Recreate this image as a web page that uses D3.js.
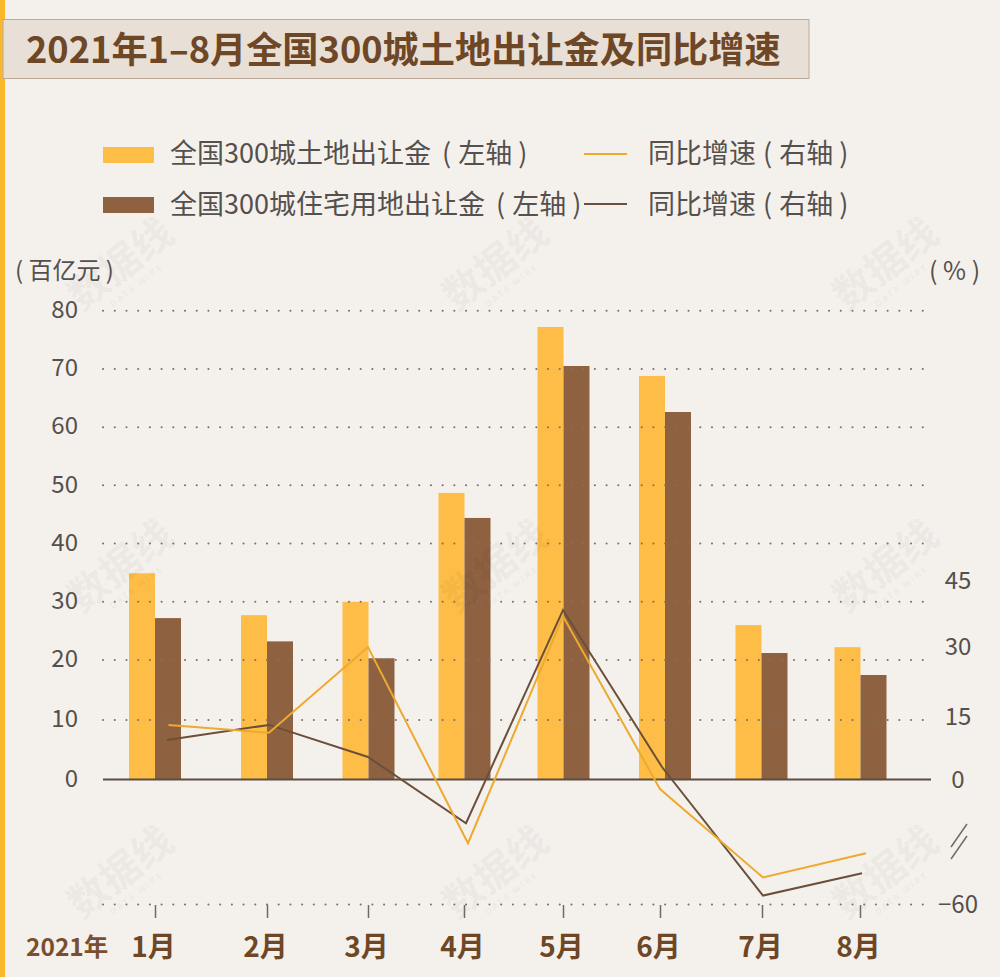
<!DOCTYPE html>
<html>
<head>
<meta charset="utf-8">
<script src="https://cdn.jsdelivr.net/npm/d3@7/dist/d3.min.js"></script>
<style>
  html, body { margin: 0; padding: 0; background: #f4f1ec; }
  svg { display: block; }
  text { font-family: "Noto Sans CJK SC", "Noto Sans", sans-serif; }
</style>
</head>
<body>
<script>
const months = ['1月', '2月', '3月', '4月', '5月', '6月', '7月', '8月'];

// 百亿元
const landValues = [34.9, 27.7, 30, 48.7, 77.2, 68.8, 26, 22.2];
const housingValues = [27.2, 23.2, 20.3, 44.4, 70.5, 62.6, 21.2, 17.5];

// %
const landGrowth = [13.1, 11.2, 30, -30.6, 37, -4.6, -47, -35.4];
const housingGrowth = [9.5, 13.1, 5.4, -21, 38.4, 3, -55.7, -45];

const leftTicks = [0, 10, 20, 30, 40, 50, 60, 70, 80];
const rightTicks = [45, 30, 15, 0, -60];

const YELLOW = '#fdbd46';
const BROWN = '#8e6240';
const LINE_YELLOW = '#eea92f';
const LINE_BROWN = '#6b4f3a';
const TEXT = '#55504d';
const TITLE = '#6e4727';

const svg = d3.select('body').append('svg')
  .attr('width', 1000)
  .attr('height', 977);

svg.append('rect').attr('width', 1000).attr('height', 977).attr('fill', '#f4f1ec');
svg.append('rect').attr('width', 5).attr('height', 977).attr('fill', '#fbb829');

// title box
svg.append('rect')
  .attr('x', 3).attr('y', 19.5)
  .attr('width', 806).attr('height', 59)
  .attr('fill', '#e8dfd6')
  .attr('stroke', '#bda999');
svg.append('text')
  .attr('x', 26).attr('y', 63)
  .attr('font-size', 36.2).attr('font-weight', 700)
  .attr('fill', TITLE)
  .text('2021年1–8月全国300城土地出让金及同比增速');

// irregular month spacing in the source, so ordinal scales rather than a band
const xTick = d3.scaleOrdinal().domain(months).range([155, 267, 368, 464, 563, 660, 762, 860]);
const xBar = d3.scaleOrdinal().domain(months).range([155, 267, 368.5, 464.5, 563.5, 665, 761.5, 860.5]);
const xLandLine = d3.scaleOrdinal().domain(months).range([168.5, 269, 368, 468, 563, 660, 763, 866]);
const xHousingLine = d3.scaleOrdinal().domain(months).range([167, 269, 368, 466, 563, 662, 763, 862]);
const barWidth = 26;

// the gridlines in the source are not quite evenly spaced near the baseline
const yLeft = d3.scaleLinear().domain([0, 10, 20, 80]).range([779.5, 720, 660, 310.7]);
// right axis has a break below zero
const yRight = d3.scaleLinear().domain([-60, 0, 15, 30, 45]).range([904.5, 779.5, 717, 647, 581]);

// bars
let gBars = svg.append('g');
gBars.selectAll('rect.land').data(months).join('rect')
  .attr('class', 'land')
  .attr('x', m => xBar(m) - barWidth)
  .attr('y', (m, i) => yLeft(landValues[i]))
  .attr('width', barWidth)
  .attr('height', (m, i) => yLeft(0) - yLeft(landValues[i]))
  .attr('fill', YELLOW);
gBars.selectAll('rect.housing').data(months).join('rect')
  .attr('class', 'housing')
  .attr('x', m => xBar(m))
  .attr('y', (m, i) => yLeft(housingValues[i]))
  .attr('width', barWidth)
  .attr('height', (m, i) => yLeft(0) - yLeft(housingValues[i]))
  .attr('fill', BROWN);

// watermarks sit faintly over the bars
const markRows = [275, 577, 883];
const markCols = [129, 504, 894];
markRows.forEach(function(my) {
  markCols.forEach(function(mx) {
    let g = svg.append('g')
      .attr('transform', `translate(${mx},${my}) rotate(-38)`)
      .attr('fill', '#000')
      .attr('fill-opacity', 0.05)
      .attr('text-anchor', 'middle');
    g.append('text').attr('font-size', 40).attr('font-weight', 700).text('数据线');
    g.append('text').attr('y', 16).attr('font-size', 9).attr('font-weight', 700)
      .attr('letter-spacing', 2).text('DATA WIRE');
  });
});

// dotted grid, on top of the bars
const gridX = d3.scaleLinear().domain([0, 1]).range([103, 925]);
let gGrid = svg.append('g')
  .attr('stroke', '#7d7269')
  .attr('stroke-width', 2)
  .attr('stroke-linecap', 'round')
  .attr('stroke-dasharray', '0.1 11.61')
  .attr('fill', 'none');
gGrid.selectAll('line').data(leftTicks.filter(d => d > 0)).join('line')
  .attr('x1', gridX(0)).attr('x2', gridX(1))
  .attr('y1', d => yLeft(d)).attr('y2', d => yLeft(d));
gGrid.append('line')
  .attr('x1', gridX(0)).attr('x2', gridX(1))
  .attr('y1', yRight(-60)).attr('y2', yRight(-60));

// left axis
let axisL = svg.append('g')
  .attr('transform', 'translate(78,0)')
  .call(d3.axisLeft(yLeft).tickValues(leftTicks).tickSize(0).tickPadding(0));
axisL.select('.domain').remove();
axisL.selectAll('text')
  .attr('font-size', 24).attr('fill', TEXT)
  .attr('dy', '0.28em')
  .attr('font-family', '"Noto Sans CJK SC", sans-serif');

// right axis
let axisR = svg.append('g')
  .attr('transform', 'translate(958,0)')
  .call(d3.axisRight(yRight).tickValues(rightTicks).tickFormat(d3.format('d')).tickSize(0).tickPadding(0));
axisR.select('.domain').remove();
axisR.selectAll('text')
  .attr('font-size', 24).attr('fill', TEXT)
  .attr('text-anchor', 'middle')
  .attr('font-family', '"Noto Sans CJK SC", sans-serif');

// zero line
svg.append('line')
  .attr('x1', 103).attr('x2', 931)
  .attr('y1', yLeft(0)).attr('y2', yLeft(0))
  .attr('stroke', '#5a4d45').attr('stroke-width', 2);

// axis break marks
[0, 12].forEach(function(off) {
  svg.append('line')
    .attr('x1', 967).attr('y1', 824 + off)
    .attr('x2', 951).attr('y2', 847 + off)
    .attr('stroke', '#6e6a66').attr('stroke-width', 1.5);
});

// month axis
let axisX = svg.append('g')
  .attr('transform', 'translate(0,905)')
  .call(d3.axisBottom(xTick).tickSize(13).tickPadding(19));
axisX.select('.domain').remove();
axisX.selectAll('line').attr('stroke', '#6e6a66').attr('stroke-width', 1.5);
axisX.selectAll('text')
  .attr('font-size', 28).attr('font-weight', 700).attr('fill', TITLE)
  .attr('dx', -2)
  .attr('font-family', '"Noto Sans CJK SC", sans-serif');
svg.append('text')
  .attr('x', 26).attr('y', 956)
  .attr('font-size', 24.5).attr('font-weight', 700).attr('fill', '#7a4f2f')
  .text('2021年');

// growth lines
const landLine = d3.line()
  .x((d, i) => xLandLine(months[i]))
  .y(d => yRight(d));
const housingLine = d3.line()
  .x((d, i) => xHousingLine(months[i]))
  .y(d => yRight(d));
svg.append('path')
  .attr('d', housingLine(housingGrowth))
  .attr('fill', 'none').attr('stroke', LINE_BROWN).attr('stroke-width', 2);
svg.append('path')
  .attr('d', landLine(landGrowth))
  .attr('fill', 'none').attr('stroke', LINE_YELLOW).attr('stroke-width', 2);

// legend
const legendText = [
  { x: 170, y: 163, label: '全国300城土地出让金', axis: '左轴', gap: 5 },
  { x: 170, y: 214, label: '全国300城住宅用地出让金', axis: '左轴', gap: 5 },
  { x: 648, y: 163, label: '同比增速', axis: '右轴', gap: 1 },
  { x: 648, y: 214, label: '同比增速', axis: '右轴', gap: 1 }
];
let legendRows = svg.selectAll('text.legend').data(legendText).join('text')
  .attr('class', 'legend')
  .attr('x', d => d.x).attr('y', d => d.y)
  .attr('font-size', 27).attr('fill', TEXT);
legendRows.append('tspan').text(d => d.label);
legendRows.append('tspan').attr('dx', d => d.gap).text(' (');
legendRows.append('tspan').attr('dx', 1).text(d => ' ' + d.axis);
legendRows.append('tspan').text(' )');
svg.append('rect').attr('x', 103).attr('y', 147).attr('width', 51).attr('height', 16).attr('fill', YELLOW);
svg.append('rect').attr('x', 103).attr('y', 197).attr('width', 51).attr('height', 16).attr('fill', BROWN);
svg.append('line').attr('x1', 584).attr('x2', 627).attr('y1', 154).attr('y2', 154)
  .attr('stroke', LINE_YELLOW).attr('stroke-width', 2);
svg.append('line').attr('x1', 584).attr('x2', 627).attr('y1', 204).attr('y2', 204)
  .attr('stroke', LINE_BROWN).attr('stroke-width', 2);

// units
svg.append('text').attr('x', 15).attr('y', 279).attr('font-size', 24).attr('fill', TEXT).text('( 百亿元 )');
svg.append('text').attr('x', 929).attr('y', 280).attr('font-size', 25).attr('fill', TEXT).text('( % )');
</script>
</body>
</html>
